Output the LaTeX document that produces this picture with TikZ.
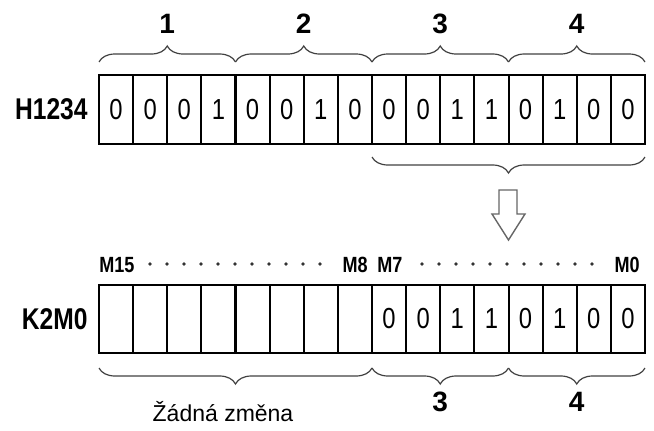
\documentclass[tikz,border=0pt]{standalone}
\usepackage{fontspec}
\setmainfont{Liberation Sans}
\newfontfamily\narrowfont[FakeStretch=0.82]{Liberation Sans}
\usetikzlibrary{positioning,decorations.pathreplacing}
\tikzset{
  cell/.style={draw, line width=1pt, inner sep=0pt, outer sep=0pt, minimum width=17.06pt, font=\narrowfont\fontsize{14.5}{14}\selectfont},
  hcell/.style={cell, minimum height=34.5pt},
  kcell/.style={cell, minimum height=34pt},
  grp/.style={decorate, decoration={brace, amplitude=8pt, raise=6.5pt}, line width=0.6pt, black!75},
  lbl/.style={inner sep=0pt, font=\fontsize{14}{14}\selectfont\bfseries},
  reglbl/.style={inner sep=0pt, font=\narrowfont\fontsize{15}{15}\selectfont\bfseries},
  mlbl/.style={inner sep=0pt, font=\narrowfont\fontsize{11}{11}\selectfont\bfseries},
  note/.style={inner sep=0pt, font=\fontsize{11.5}{12}\selectfont},
  hollow/.style={draw=black!60, line width=0.7pt, fill=white, line join=miter},
  dotc/.style={black!80},
}
\newcommand{\cellx}[1]{{99+34.125*(#1+0.5)}}

\begin{document}
\begin{tikzpicture}[x=0.5pt, y=0.5pt]
  \useasboundingbox (0,0) rectangle (654,430);
  % source register
  \foreach \b [count=\i from 0] in {0,0,0,1,0,0,1,0,0,0,1,1,0,1,0,0}
    \node[hcell] (h\i) at (\cellx{\i},320.5) {\b};
  \node[reglbl, left=5.5pt of h0] (hname) {H1234};
  \foreach \g [evaluate=\g as \ga using {int(4*\g-4)}, evaluate=\g as \gb using {int(4*\g-1)}] in {1,...,4}{
    \draw[grp] (h\ga.north west) -- (h\gb.north east);
    \node[lbl] (g\g) at ({99+136.5*\g-68.25},406) {\g};}
  \draw[grp, decoration={mirror}] (h8.south west) -- (h15.south east);
  % transfer arrow
  \draw[hollow] (499,240) -- (499,216) -- (492,216) -- (508.5,190) -- (525,216) -- (517,216) -- (517,240) -- cycle;
  % target register
  \foreach \i in {0,...,7}
    \node[kcell] (k\i) at (\cellx{\i},111) {};
  \foreach \b [count=\i from 8] in {0,0,1,1,0,1,0,0}
    \node[kcell] (k\i) at (\cellx{\i},111) {\b};
  \node[reglbl, left=5.5pt of k0] (kname) {K2M0};
  \node[mlbl, anchor=south west] (m15) at ([yshift=6pt]k0.north west) {M15};
  \node[mlbl, anchor=south east] (m8) at ([xshift=-2pt, yshift=6pt]k7.north east) {M8};
  \node[mlbl, anchor=south west] (m7) at ([xshift=2.5pt, yshift=6pt]k8.north west) {M7};
  \node[mlbl, anchor=south east] (m0) at ([xshift=-2.5pt, yshift=6pt]k15.north east) {M0};
  \foreach \k in {0,...,10}{
    \fill[dotc] (150+17*\k,166) circle (0.9pt);
    \fill[dotc] (422+17*\k,166) circle (0.9pt);}
  \draw[grp, decoration={mirror, raise=7.5pt}] (k0.south west) -- (k7.south east);
  \draw[grp, decoration={mirror, raise=7.5pt}] (k8.south west) -- (k11.south east);
  \draw[grp, decoration={mirror, raise=7.5pt}] (k12.south west) -- (k15.south east);
  \node[note] (nochg) at (223,18) {Žádná změna};
  \node[lbl] (b3) at (440.25,28) {3};
  \node[lbl] (b4) at (576.75,28) {4};
\end{tikzpicture}
\end{document}
